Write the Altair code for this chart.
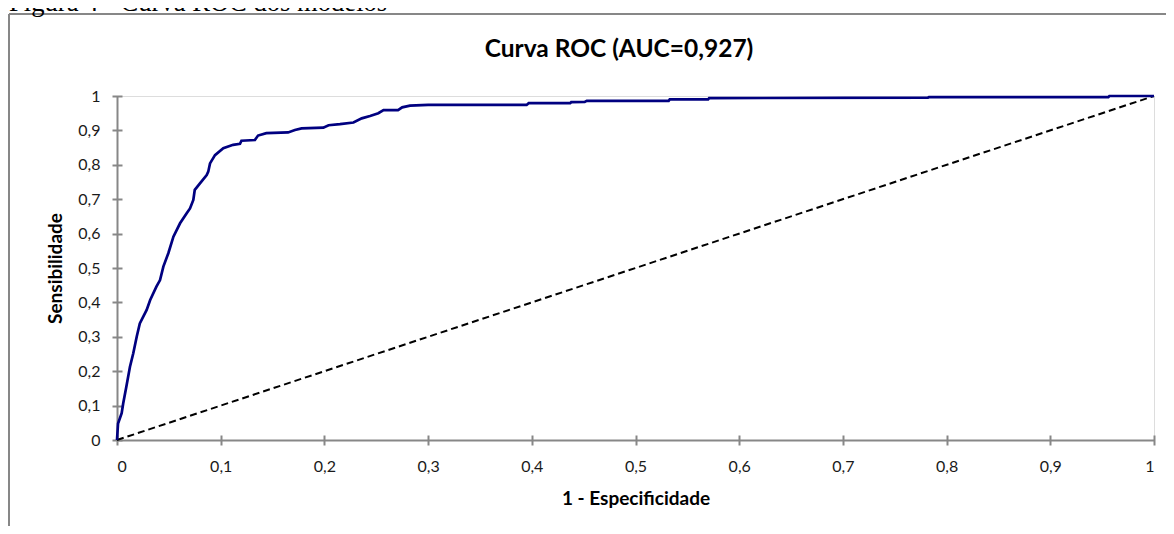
import altair as alt
import pandas as pd

# ROC curve
fpr = [0, 0.001, 0.0045, 0.006, 0.009, 0.0125, 0.0157, 0.019, 0.022, 0.0286,
       0.032, 0.038, 0.0415, 0.0447, 0.0495, 0.0544, 0.0608, 0.0672, 0.0704, 0.0736,
       0.075, 0.080, 0.0865, 0.088, 0.0897, 0.0945, 0.1025, 0.112, 0.1186, 0.120,
       0.133, 0.136, 0.144, 0.165, 0.1716, 0.178, 0.199, 0.204, 0.215, 0.228,
       0.236, 0.244, 0.252, 0.257, 0.271, 0.275, 0.2825, 0.300, 0.395, 0.397,
       0.437, 0.438, 0.451, 0.453, 0.532, 0.533, 0.570, 0.571, 0.782, 0.783,
       0.956, 0.957, 1.0]
tpr = [0, 0.048, 0.078, 0.107, 0.155, 0.213, 0.252, 0.300, 0.339, 0.378,
       0.407, 0.446, 0.465, 0.504, 0.543, 0.591, 0.630, 0.659, 0.673, 0.698,
       0.727, 0.746, 0.770, 0.780, 0.804, 0.828, 0.848, 0.858, 0.861, 0.870,
       0.872, 0.885, 0.892, 0.894, 0.901, 0.906, 0.908, 0.915, 0.918, 0.923,
       0.935, 0.942, 0.950, 0.959, 0.959, 0.967, 0.972, 0.974, 0.974, 0.979,
       0.979, 0.982, 0.983, 0.986, 0.986, 0.990, 0.990, 0.994, 0.995, 0.997,
       0.997, 1.0, 1.0]
diag_x = [0, 1]
diag_y = [0, 1]
tick_values = [0, 0.1, 0.2, 0.3, 0.4, 0.5, 0.6, 0.7, 0.8, 0.9, 1]

caption = "Figura 4 - Curva ROC dos modelos"
chart_title = "Curva ROC (AUC=0,927)"
x_title = "1 - Especificidade"
y_title = "Sensibilidade"

curve_df = pd.DataFrame({"fpr": fpr, "tpr": tpr, "order": list(range(len(fpr)))})
diag_df = pd.DataFrame({"fpr": diag_x, "tpr": diag_y})

W, H = 1037, 344
GREY = "#878787"
FONT = "Lato"
label_expr = "datum.value == 0 ? '0' : datum.value == 1 ? '1' : replace(format(datum.value, '.1f'), '.', ',')"

x_scale = alt.Scale(domain=[0, 1], nice=False, zero=False)
y_scale = alt.Scale(domain=[0, 1], nice=False, zero=False)

curve = alt.Chart(curve_df).mark_line(color="#000080", strokeWidth=2.7).encode(
    x=alt.X("fpr:Q", scale=x_scale, axis=alt.Axis(
        values=tick_values, labelExpr=label_expr, ticks=False, tickSize=0, grid=False,
        domainColor=GREY, domainWidth=2, labelFont=FONT, labelFontSize=16,
        labelColor="#1a1a1a", labelPadding=18, orient="bottom",
        title=x_title, titleFont=FONT, titleFontSize=19, titleFontWeight="bold",
        titleColor="#000000", titleX=518.5, titleY=58, titleBaseline="middle",
        titleAlign="center")),
    y=alt.Y("tpr:Q", scale=y_scale, axis=alt.Axis(
        values=tick_values, labelExpr=label_expr, ticks=False, tickSize=0, grid=False,
        domainColor=GREY, domainWidth=2, labelFont=FONT, labelFontSize=16,
        labelColor="#1a1a1a", labelPadding=17, orient="left",
        title=y_title, titleFont=FONT, titleFontSize=19, titleFontWeight="bold",
        titleColor="#000000", titleX=-62, titleY=172, titleAngle=-90,
        titleBaseline="middle", titleAlign="center")),
    order="order:Q",
)

diag = alt.Chart(diag_df).mark_line(color="#000000", strokeWidth=2, strokeDash=[7, 4]).encode(
    x=alt.X("fpr:Q", scale=x_scale, axis=alt.Axis(
        values=tick_values, labels=False, domain=False, grid=False, ticks=True,
        tickSize=10, tickColor=GREY, tickWidth=2, offset=-5, title=None, orient="bottom")),
    y=alt.Y("tpr:Q", scale=y_scale, axis=alt.Axis(
        values=tick_values, labels=False, domain=False, grid=False, ticks=True,
        tickSize=10, tickColor=GREY, tickWidth=2, offset=-5, title=None, orient="left")),
)

title_txt = alt.Chart().mark_text(
    text=chart_title, font=FONT, fontSize=24.5, fontWeight="bold", color="#000000",
    align="center", baseline="alphabetic"
).encode(x=alt.value(502), y=alt.value(-39))

caption_txt = alt.Chart().mark_text(
    text=caption, font="Liberation Serif", fontSize=26.6, color="#000000",
    align="left", baseline="alphabetic"
).encode(x=alt.value(-108), y=alt.value(-85))

frame_v = alt.Chart().mark_rule(color=GREY, strokeWidth=2).encode(
    x=alt.value(-108), y=alt.value(-82), y2=alt.value(430))
frame_h = alt.Chart().mark_rule(color=GREY, strokeWidth=2).encode(
    x=alt.value(-108), x2=alt.value(1049), y=alt.value(-82))

chart = alt.layer(frame_v, frame_h, caption_txt, title_txt, diag, curve).resolve_axis(
    x="independent", y="independent"
).properties(
    width=W, height=H,
    autosize=alt.AutoSizeParams(type="none"),
    padding={"left": 109, "top": 88, "right": 12, "bottom": 86},
).configure_view(stroke=GREY, strokeWidth=2).configure(background="white")

chart.save("out.html", embed_options={"renderer": "svg", "actions": False})
